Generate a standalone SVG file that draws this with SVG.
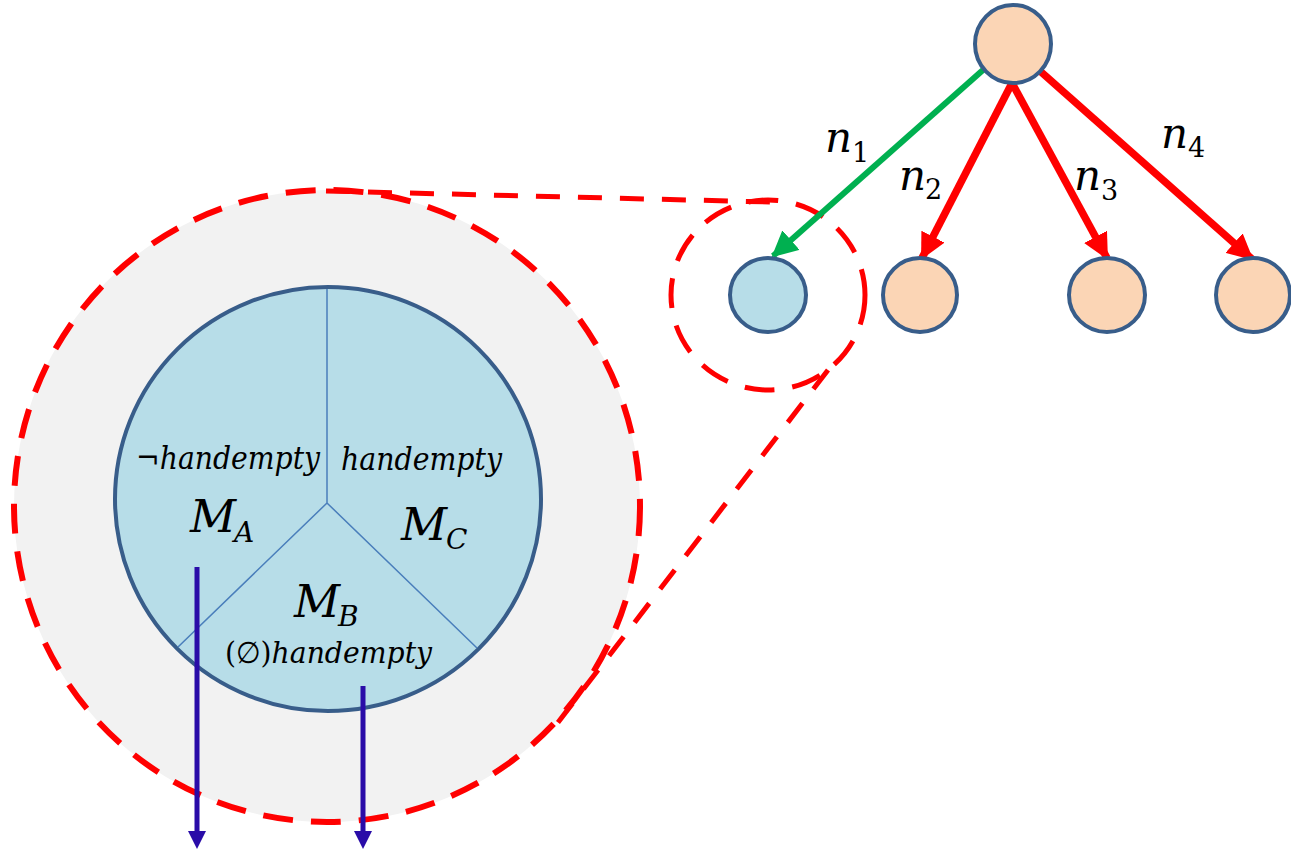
<svg xmlns="http://www.w3.org/2000/svg" width="1291" height="852" viewBox="0 0 1291 852">
<defs>
<style>
.zoomring{fill:#f2f2f2;stroke:#ff0000;stroke-width:6;stroke-dasharray:30 18}
.ring{fill:none;stroke:#ff0000;stroke-width:5;stroke-dasharray:30 18}
.lead{fill:none;stroke:#ff0000;stroke-width:5;stroke-dasharray:24 18}
.node{stroke:#385d8a;stroke-width:4}
.peach{fill:#fbd5b5}
.blue{fill:#b7dde8}
.div{stroke:#4a7ebb;stroke-width:1.5;fill:none}
.math{font-family:"DejaVu Serif","Liberation Serif",serif;font-style:italic;fill:#000}
.up{font-family:"DejaVu Serif","Liberation Serif",serif;font-style:normal;fill:#000}
.red{stroke:#ff0000;stroke-width:7.5;fill:none}
.green{stroke:#00b050;stroke-width:6;fill:none}
.dv{stroke:#2a0ca8;stroke-width:5;fill:none}
</style>
<marker id="ahRed" markerUnits="userSpaceOnUse" markerWidth="26" markerHeight="26" viewBox="0 0 26 26" refX="24" refY="13" orient="auto">
<path d="M0,0 L26,13 L0,26 Z" fill="#ff0000"/>
</marker>
<marker id="ahGreen" markerUnits="userSpaceOnUse" markerWidth="26" markerHeight="26" viewBox="0 0 26 26" refX="24" refY="13" orient="auto">
<path d="M0,0 L26,13 L0,26 Z" fill="#00b050"/>
</marker>
</defs>
<rect width="1291" height="852" fill="#ffffff"/>

<g id="zoom-view">
<ellipse class="zoomring" cx="327" cy="506" rx="313" ry="316"/>
</g>

<g id="inner-node">
<ellipse class="node blue" cx="328" cy="499" rx="213" ry="212"/>
<path class="div" d="M327,503 L327,289 M327,503 L178,647 M327,503 L477,648"/>
</g>

<g id="labels">
<text class="math" x="136" y="469" font-size="31" textLength="184" lengthAdjust="spacingAndGlyphs">¬handempty</text>
<text class="math" x="341" y="470" font-size="31" textLength="161" lengthAdjust="spacingAndGlyphs">handempty</text>
<text class="math" x="190" y="532" font-size="45">M<tspan font-size="28" dx="-2" dy="10">A</tspan></text>
<text class="math" x="401" y="540" font-size="45">M<tspan font-size="28" dx="-1" dy="9">C</tspan></text>
<text class="math" x="294" y="617" font-size="45">M<tspan font-size="28" dx="-2" dy="9">B</tspan></text>
<text x="225" y="663" font-size="30" textLength="207" lengthAdjust="spacingAndGlyphs"><tspan class="up">(∅)</tspan><tspan class="math">handempty</tspan></text>
</g>

<g id="outputs">
<line class="dv" x1="197" y1="567" x2="197" y2="834"/>
<path d="M188,831 L206,831 L197,849 Z" fill="#2a0ca8"/>
<line class="dv" x1="363" y1="686" x2="363" y2="834"/>
<path d="M354,831 L372,831 L363,849 Z" fill="#2a0ca8"/>
</g>

<g id="zoom-leads">
<line class="lead" x1="326" y1="191" x2="770" y2="202"/>
<line class="lead" x1="828" y1="370" x2="556" y2="725"/>
</g>

<g id="highlight-ring">
<ellipse class="ring" cx="768" cy="295" rx="97" ry="95"/>
</g>

<g id="connectors">
<line class="green" x1="983" y1="70" x2="773" y2="256" marker-end="url(#ahGreen)"/>
<line class="red" x1="1012" y1="83" x2="922" y2="258" marker-end="url(#ahRed)"/>
<line class="red" x1="1012" y1="83" x2="1107" y2="258" marker-end="url(#ahRed)"/>
<line class="red" x1="1040" y1="71" x2="1252" y2="259" marker-end="url(#ahRed)"/>
</g>

<g id="edge-labels">
<text class="math" x="825" y="152" font-size="42">n<tspan class="up" font-size="27" dx="0" dy="10">1</tspan></text>
<text class="math" x="899" y="190" font-size="42">n<tspan class="up" font-size="27" dx="-1" dy="9">2</tspan></text>
<text class="math" x="1074" y="190" font-size="42">n<tspan class="up" font-size="27" dx="0" dy="10">3</tspan></text>
<text class="math" x="1161" y="148" font-size="42">n<tspan class="up" font-size="27" dx="0" dy="9">4</tspan></text>
</g>

<g id="root"><ellipse class="node peach" cx="1013" cy="44" rx="38" ry="39"/></g>
<g id="child1"><ellipse class="node blue" cx="768" cy="295" rx="38" ry="37"/></g>
<g id="child2"><ellipse class="node peach" cx="920" cy="295" rx="37" ry="37"/></g>
<g id="child3"><ellipse class="node peach" cx="1107" cy="295" rx="38" ry="37"/></g>
<g id="child4"><ellipse class="node peach" cx="1253" cy="295" rx="37" ry="37"/></g>
</svg>
